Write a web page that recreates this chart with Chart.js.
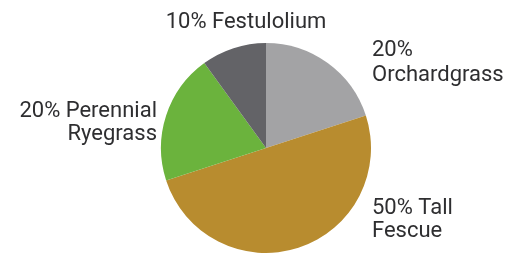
<!DOCTYPE html>
<html>
<head>
<meta charset="utf-8">
<script src="https://cdn.jsdelivr.net/npm/chart.js@4/dist/chart.umd.min.js"></script>
<style>
  html, body { margin: 0; padding: 0; background: #ffffff; }
  #wrap { width: 517px; height: 254px; position: relative; }
</style>
</head>
<body>
<div id="wrap"><canvas id="c" width="517" height="254"></canvas></div>
<script>
// ---- data ----
const categories = ["Orchardgrass", "Tall Fescue", "Perennial Ryegrass", "Festulolium"];
const shares = [20, 50, 20, 10];
const labelLines = [
  ["20%", "Orchardgrass"],
  ["50% Tall", "Fescue"],
  ["20% Perennial", "Ryegrass"],
  ["10% Festulolium"]
];

// ---- styles ----
const sliceColors = ["#a3a3a5", "#b88c2f", "#6bb33d", "#636367"];
// label anchor offsets relative to pie centre (styling / layout only)
const labelLayout = [
  { dx: 106, dy: -92, align: "left", lh: 25 },
  { dx: 106, dy: 66, align: "left", lh: 23 },
  { dx: -109, dy: -31, align: "right", lh: 23 },
  { dx: -20, dy: -120, align: "center", lh: 23 }
];

const labelPlugin = {
  id: "sliceLabels",
  afterDraw(chart) {
    const ctx = chart.ctx;
    const meta = chart.getDatasetMeta(0);
    ctx.save();
    ctx.font = "22px Roboto";
    ctx.fillStyle = "#2e2e30";
    ctx.textBaseline = "alphabetic";
    meta.data.forEach((arc, i) => {
      const L = labelLayout[i];
      ctx.textAlign = L.align;
      labelLines[i].forEach((line, j) => {
        ctx.fillText(line, arc.x + L.dx, arc.y + L.dy + j * L.lh);
      });
    });
    ctx.restore();
  }
};

new Chart(document.getElementById("c"), {
  type: "pie",
  data: {
    labels: categories,
    datasets: [{
      data: shares,
      backgroundColor: sliceColors,
      borderWidth: 0
    }]
  },
  options: {
    responsive: false,
    animation: false,
    layout: { padding: { top: 43, bottom: 1, left: 120, right: 105 } },
    plugins: {
      legend: { display: false },
      tooltip: { enabled: false },
      title: { display: false }
    }
  },
  plugins: [labelPlugin]
});
</script>
</body>
</html>
